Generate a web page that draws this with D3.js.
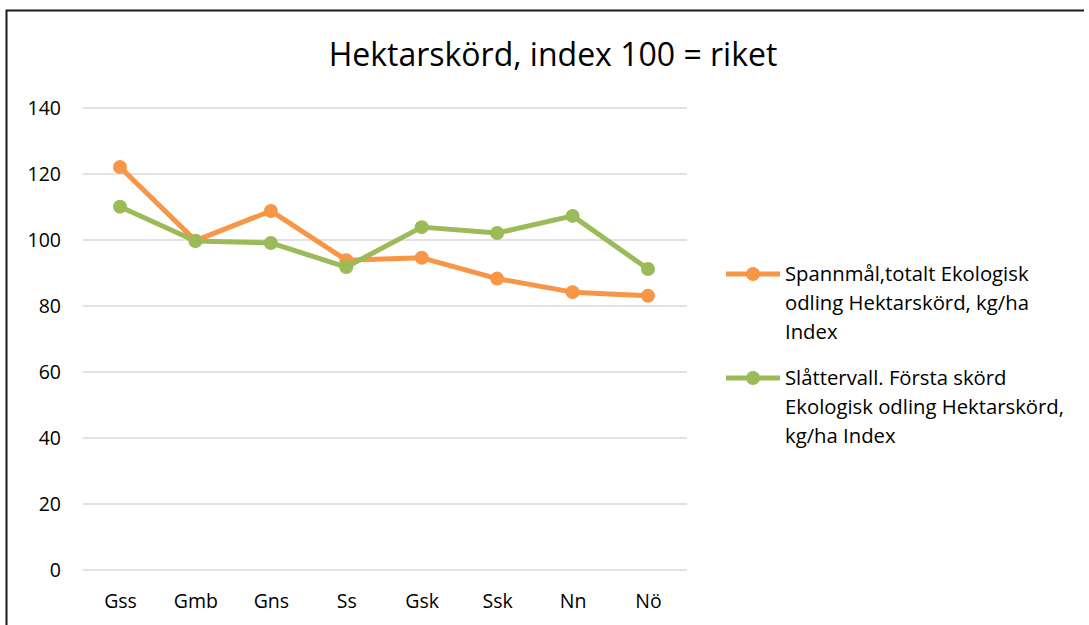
<!DOCTYPE html>
<html><head><meta charset="utf-8">
<script src="https://cdn.jsdelivr.net/npm/d3@7"></script>
<style>body{margin:0;background:#fff}svg{display:block}</style>
</head><body>
<script>
const categories = ["Gss","Gmb","Gns","Ss","Gsk","Ssk","Nn","Nö"];
const spannmal = [122.1, 99.8, 108.8, 93.9, 94.6, 88.3, 84.2, 83.1];
const slattervall = [110.1, 99.7, 99.1, 91.8, 103.9, 102.1, 107.3, 91.2];
const yTicks = [0,20,40,60,80,100,120,140];
const seriesNames = [
  ["Spannmål,totalt Ekologisk","odling Hektarskörd, kg/ha","Index"],
  ["Slåttervall. Första skörd","Ekologisk odling Hektarskörd,","kg/ha Index"]
];
const colors = ["#F79646","#9BBB59"];
const font = "'Open Sans', 'Noto Sans', sans-serif";

const W=1089,H=625;
const svg=d3.select("body").append("svg").attr("width",W).attr("height",H);
svg.append("path").attr("d","M6.5,626 L6.5,10.5 L1084,10.5")
  .attr("fill","none").attr("stroke","#1a1a1a").attr("stroke-width",2);

svg.append("text").attr("x",553).attr("y",66).attr("text-anchor","middle")
  .attr("font-family",font).attr("font-size",32).attr("fill","#000")
  .text("Hektarskörd, index 100 = riket");

const x=d3.scalePoint().domain(categories).range([120,648]);
const y=d3.scaleLinear().domain([0,140]).range([570,108]);

const grid=svg.append("g");
grid.selectAll("line").data(yTicks).join("line")
  .attr("x1",83).attr("x2",687).attr("y1",d=>y(d)).attr("y2",d=>y(d))
  .attr("stroke","#d9d9d9").attr("stroke-width",1.5);

const yAxis=svg.append("g").attr("transform","translate(61,0)")
  .call(d3.axisLeft(y).tickValues(yTicks).tickSize(0).tickPadding(0));
yAxis.select(".domain").remove();
yAxis.selectAll("text").attr("font-family",font).attr("font-size",19.5).attr("fill","#000").attr("dy","0.35em");

const xAxis=svg.append("g").attr("transform","translate(0,601)")
  .call(d3.axisBottom(x).tickSize(0).tickPadding(0));
xAxis.select(".domain").remove();
xAxis.selectAll("text").attr("font-family",font).attr("font-size",19.5).attr("fill","#000").attr("dy","0.35em");

const line=d3.line().x((d,i)=>x(categories[i])).y(d=>y(d));
[spannmal,slattervall].forEach((s,k)=>{
  const g=svg.append("g");
  g.append("path").datum(s).attr("d",line).attr("fill","none")
    .attr("stroke",colors[k]).attr("stroke-width",5).attr("stroke-linejoin","round");
  g.selectAll("circle").data(s).join("circle")
    .attr("cx",(d,i)=>x(categories[i])).attr("cy",d=>y(d)).attr("r",7).attr("fill",colors[k]);
});

const legY=[274,378];
seriesNames.forEach((lines,k)=>{
  const g=svg.append("g").attr("transform",`translate(0,${legY[k]})`);
  g.append("line").attr("x1",726).attr("x2",780).attr("y1",0).attr("y2",0)
    .attr("stroke",colors[k]).attr("stroke-width",5);
  g.append("circle").attr("cx",753).attr("cy",0).attr("r",7).attr("fill",colors[k]);
  const t=g.append("text").attr("font-family",font).attr("font-size",20.3).attr("fill","#000");
  lines.forEach((l,i)=>t.append("tspan").attr("x",785).attr("y",i*29).attr("dy","0.35em").text(l));
});
</script>
</body></html>
